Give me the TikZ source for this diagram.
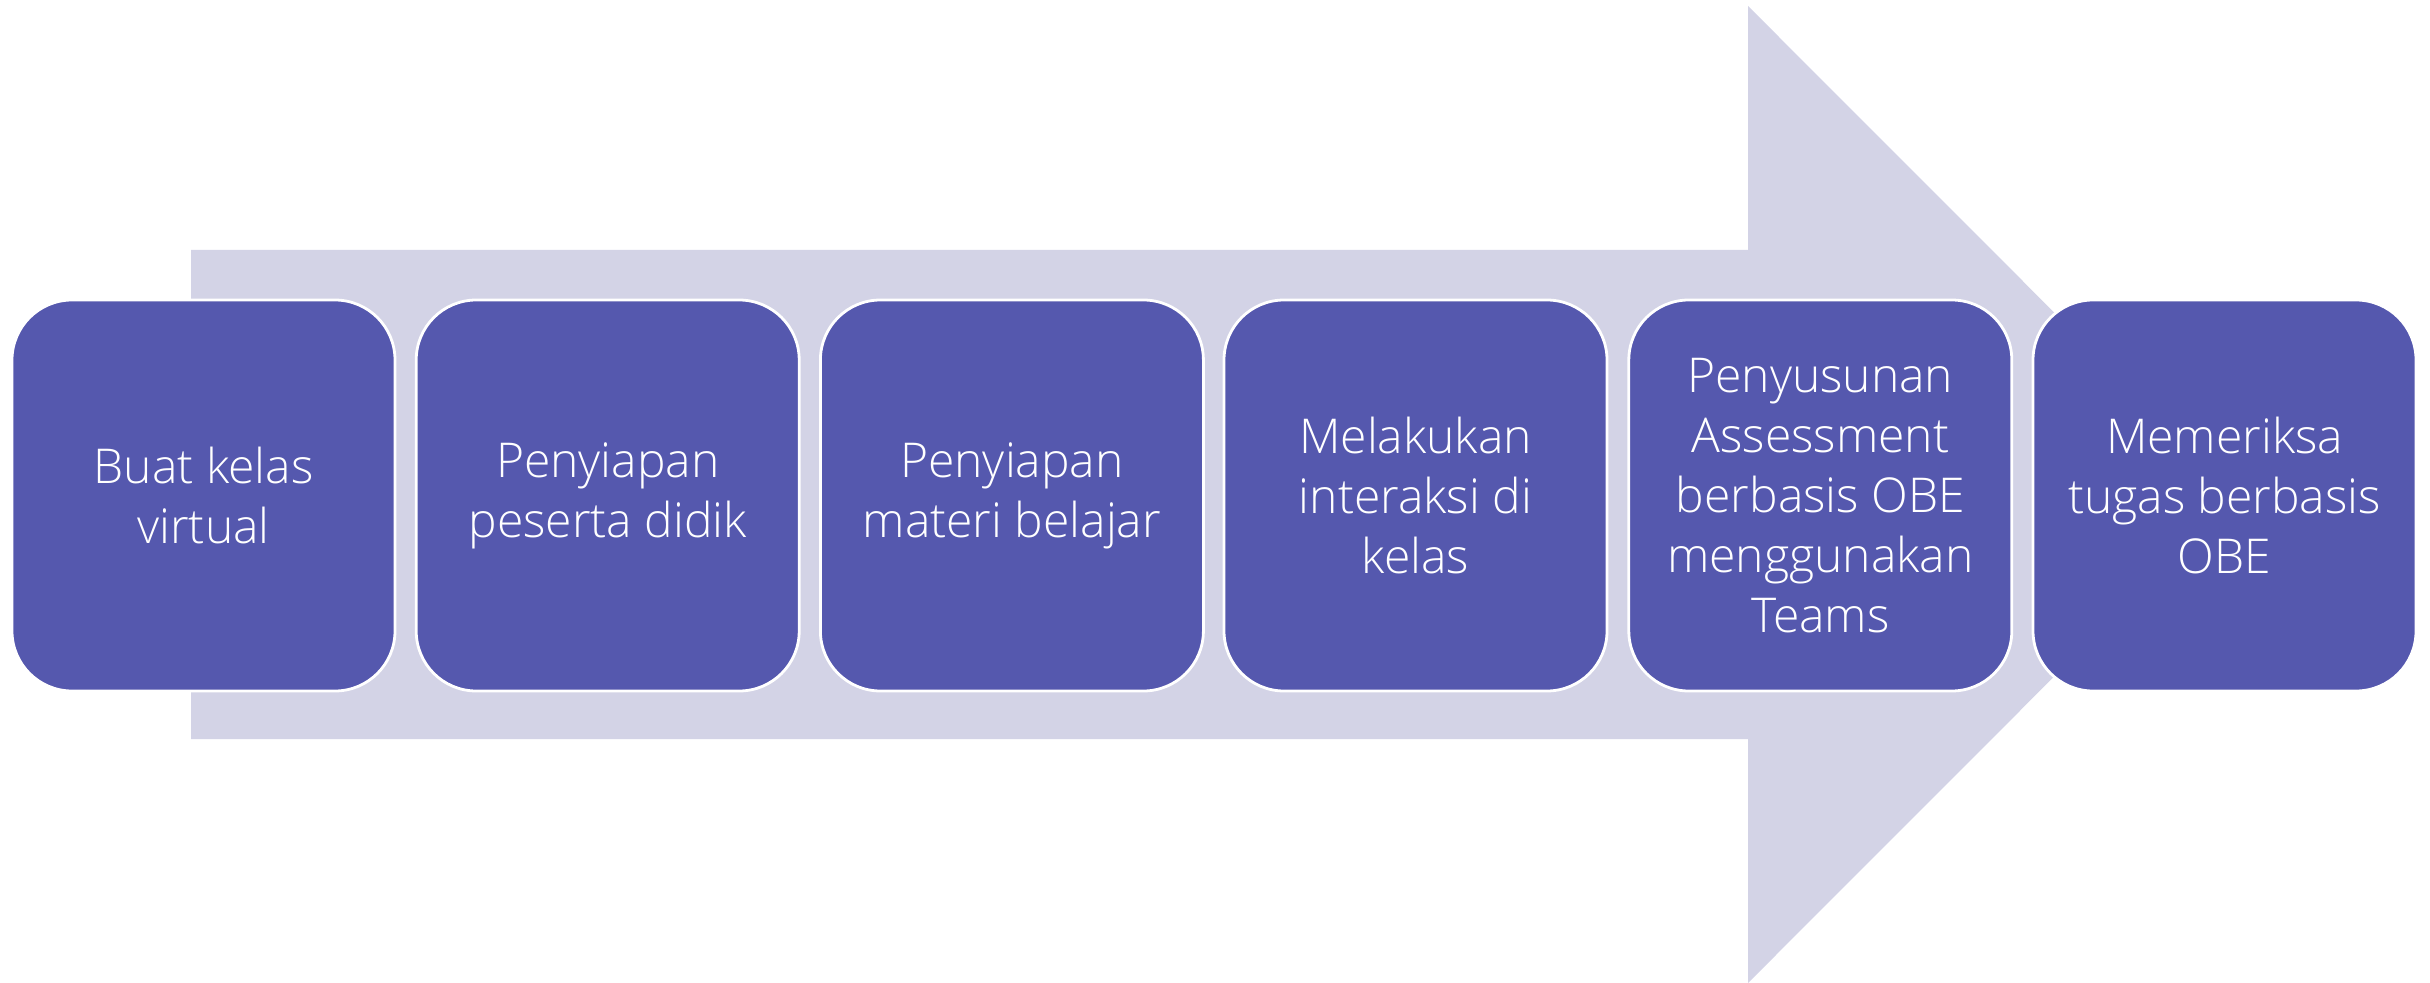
\documentclass[tikz,border=0pt]{standalone}
\usepackage{fontspec}
\setmainfont{Open Sans Light}
\definecolor{boxfill}{HTML}{5558AE}
\definecolor{arrowfill}{HTML}{D3D3E6}
\begin{document}
\begin{tikzpicture}[x=0.5pt,y=-0.5pt,
  stepbox/.style={rectangle, rounded corners=30pt, fill=boxfill, draw=white, line width=1.4pt,
    minimum width=191.5pt, minimum height=195.5pt, inner sep=0pt, text=white, align=center,
    font=\fontsize{24}{30}\selectfont}]
\useasboundingbox (0,0) rectangle (2430,983);
\fill[arrowfill] (191,250) -- (1748,250) -- (1748,6) -- (2236,494.5) -- (1748,983) -- (1748,739) -- (191,739) -- cycle;
\node[stepbox] (b1) at (203.5,495.5) {Buat kelas\\virtual};
\node[stepbox] (b2) at (607.7,495.5) {Penyiapan\\peserta didik};
\node[stepbox] (b3) at (1011.9,495.5) {Penyiapan\\materi belajar};
\node[stepbox] (b4) at (1415.5,495.5) {Melakukan\\interaksi di\\kelas};
\node[stepbox] (b5) at (1820.3,495.5) {Penyusunan\\Assessment\\berbasis OBE\\menggunakan\\Teams};
\node[stepbox] (b6) at (2224.5,495.5) {Memeriksa\\tugas berbasis\\OBE};
\end{tikzpicture}
\end{document}
